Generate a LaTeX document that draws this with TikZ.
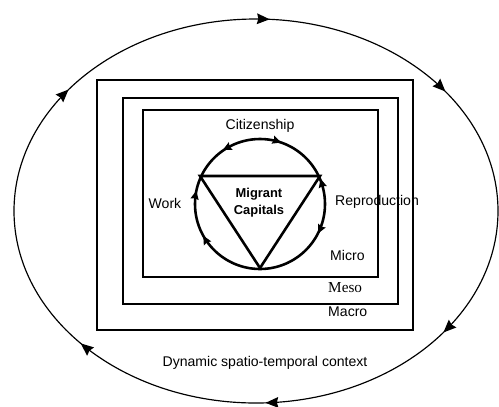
\documentclass[tikz,border=0pt]{standalone}
\usepackage{fontspec}
\setmainfont{Liberation Sans}
\newfontfamily\mesofont{Liberation Serif}
\usetikzlibrary{arrows.meta,decorations.markings}

\tikzset{
  lbl/.style={font=\fontsize{12}{14}\selectfont,inner sep=0pt},
  box/.style={line width=1.3pt},
  ring/.style={line width=2.2pt},
  small tip/.style={>={Stealth[length=2.6mm,width=2.4mm,inset=0.3mm]}},
}

\begin{document}
\begin{tikzpicture}[x=0.03cm,y=-0.03cm,>={Stealth[length=3.8mm,width=3.2mm,inset=0.4mm]},line cap=round]
\useasboundingbox (0,0) rectangle (499,406);
% dynamic context, clockwise
\draw[line width=1pt,postaction={decorate},decoration={markings,
  mark=at position 0.10 with {\arrow{>}},
  mark=at position 0.243 with {\arrow{>}},
  mark=at position 0.388 with {\arrow{>}},
  mark=at position 0.60 with {\arrow{>}},
  mark=at position 0.76 with {\arrow{>}},
  mark=at position 0.902 with {\arrow{>}}}]
  (256,211) ellipse [x radius=242, y radius=192];
% levels
\draw[box] (97,80) rectangle (413,330);
\draw[box] (123,98) rectangle (398,304);
\draw[box] (143,110) rectangle (378,277);
% capitals
\draw[ring,small tip,postaction={decorate},decoration={markings,
  mark=at position 0.075 with {\arrow{>}},
  mark=at position 0.419 with {\arrow{>}},
  mark=at position 0.533 with {\arrow{>}},
  mark=at position 0.675 with {\arrow{<}},
  mark=at position 0.803 with {\arrow{>}},
  mark=at position 0.958 with {\arrow{<}}}]
  (260,204) circle [radius=65];
\draw[ring,line cap=butt] (200,176) -- (320,176) -- (260,268) -- cycle;
\node[lbl] (ctz) at (260,126) {Citizenship};
\node[lbl] (work) at (165,203) {Work};
\node[lbl,anchor=west] (repro) at (335,202) {Reproduction};
\node[font=\bfseries\fontsize{11}{14.5}\selectfont,align=center,inner sep=0pt] (capitals) at (259,203) {Migrant\\Capitals};
\node[lbl,anchor=west] (micro) at (330,255) {Micro};
\node[lbl,anchor=west,font=\mesofont\fontsize{13}{15}\selectfont] (meso) at (328,288) {Meso};
\node[lbl,anchor=west] (macro) at (328,312) {Macro};
\node[lbl] (context) at (265,363) {Dynamic spatio-temporal context};
\end{tikzpicture}
\end{document}
